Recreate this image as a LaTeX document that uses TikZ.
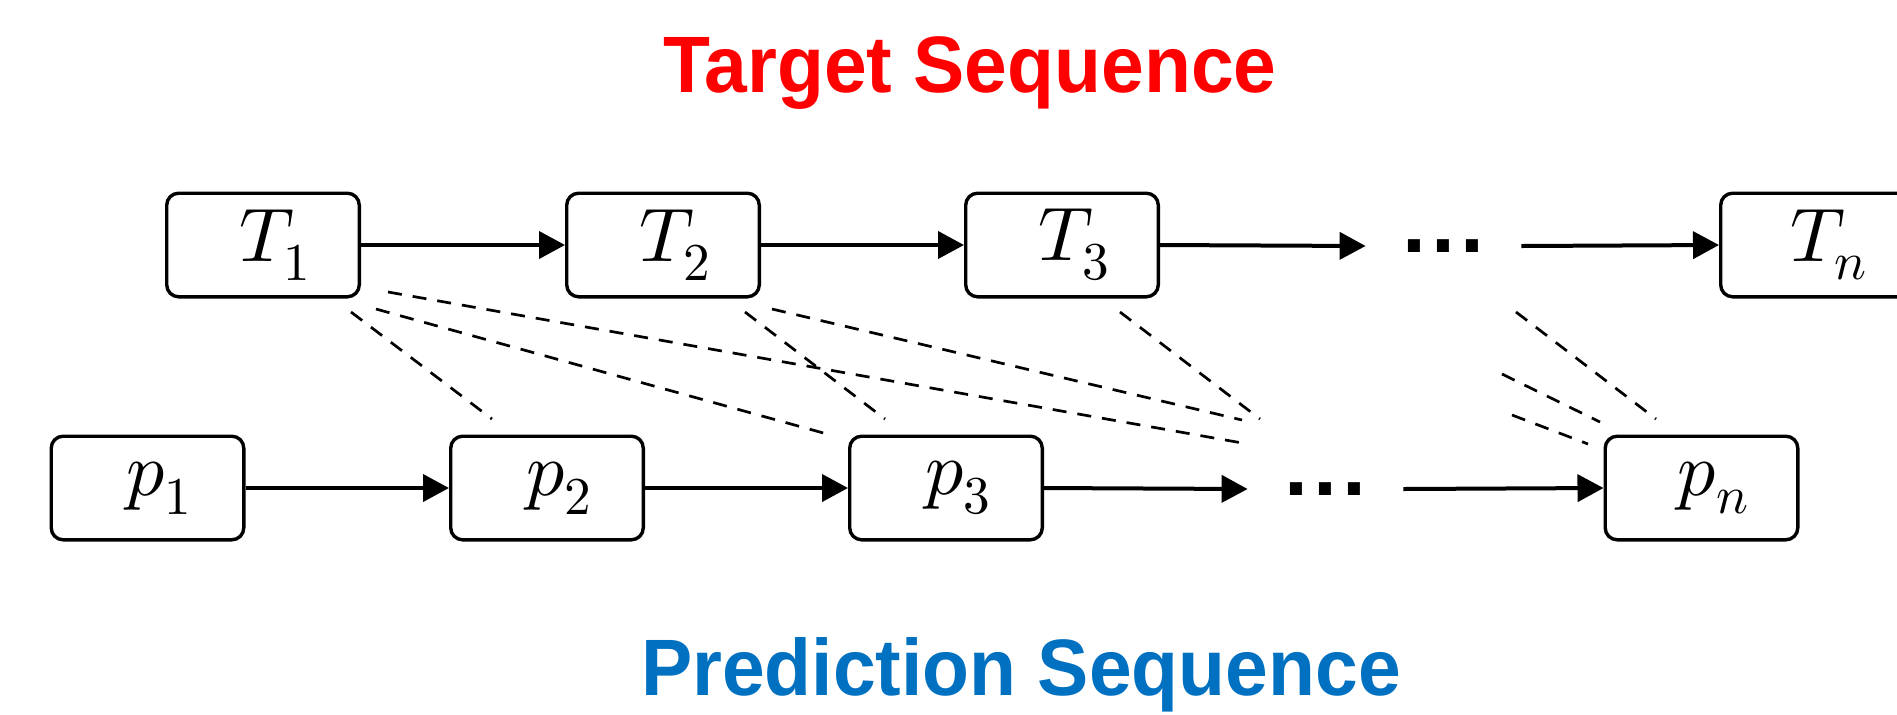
\documentclass[tikz,border=0pt]{standalone}
\usepackage{fontspec}
\usepackage{unicode-math}
\setmathfont{Latin Modern Math}
\usetikzlibrary{arrows.meta}
\newfontfamily\titlefont[FakeStretch=0.96]{Liberation Sans}
\newfontfamily\dotfont{DejaVu Sans}
\definecolor{tred}{RGB}{255,0,0}
\definecolor{pblue}{RGB}{0,112,192}
\begin{document}
\begin{tikzpicture}[x=0.5pt,y=-0.5pt,
  seqbox/.style={draw, line width=1.7pt, rounded corners=6pt, minimum width=96.3pt, minimum height=51.8pt, inner sep=0pt, font=\fontsize{38}{46}\selectfont, execute at begin node={\hspace*{12pt}}},
  arr/.style={line width=2pt, -{Triangle[length=13pt,width=13.5pt]}},
  dsh/.style={line width=1.35pt, dash pattern=on 7pt off 5.5pt},
  dotsnode/.style={minimum width=77.5pt, inner sep=0pt, font=\dotfont\bfseries\fontsize{34}{40}\selectfont},
  title/.style={anchor=base, inner sep=0pt, font=\titlefont\bfseries\fontsize{40}{48}\selectfont}]
\path[use as bounding box] (0,0) rectangle (1897,714);
\clip (0,0) rectangle (1897,714);

% titles
\node[title, text=tred] (tt) at (970,92) {Target Sequence};
\node[title, text=pblue] (ps) at (1021,695) {Prediction Sequence};

% target row
\node[seqbox] (T1) at (263,245) {$T_1$};
\node[seqbox] (T2) at (663,245) {$T_2$};
\node[seqbox] (T3) at (1062,245) {$T_3$};
\node[dotsnode] (dT) at (1443.5,246) {.\kern1.5pt.\kern1.5pt.};
\node[seqbox] (Tn) at (1817,245) {$T_n$};

% prediction row
\node[seqbox] (p1) at (147.5,488) {$p_1$};
\node[seqbox] (p2) at (547,488) {$p_2$};
\node[seqbox] (p3) at (946,488) {$p_3$};
\node[dotsnode] (dP) at (1325.5,489) {.\kern1.5pt.\kern1.5pt.};
\node[seqbox] (pn) at (1701.5,488) {$p_n$};

% arrows
\draw[arr] (T1.east) -- (T2.west);
\draw[arr] (T2.east) -- (T3.west);
\draw[arr] (T3.east) -- (dT.west);
\draw[arr] (dT.east) -- (Tn.west);
\draw[arr] (p1.east) -- (p2.west);
\draw[arr] (p2.east) -- (p3.west);
\draw[arr] (p3.east) -- (dP.west);
\draw[arr] (dP.east) -- (pn.west);

% dashed link ends
\coordinate (a1) at (351,312);  \coordinate (b1) at (492,419);
\coordinate (a2) at (376,309);  \coordinate (b2) at (827,434);
\coordinate (a3) at (388,292);  \coordinate (b3) at (1248,444);
\coordinate (a4) at (745,312);  \coordinate (b4) at (885,419);
\coordinate (a5) at (772,309);  \coordinate (b5) at (1242,420);
\coordinate (a6) at (1120,312); \coordinate (b6) at (1260,419);
\coordinate (a7) at (1516,312); \coordinate (b7) at (1656,419);
\coordinate (a8) at (1502,374); \coordinate (b8) at (1600,422);
\coordinate (a9) at (1512,415); \coordinate (b9) at (1588,444);

\foreach \i in {1,...,9} { \draw[dsh] (a\i) -- (b\i); }
\end{tikzpicture}
\end{document}
